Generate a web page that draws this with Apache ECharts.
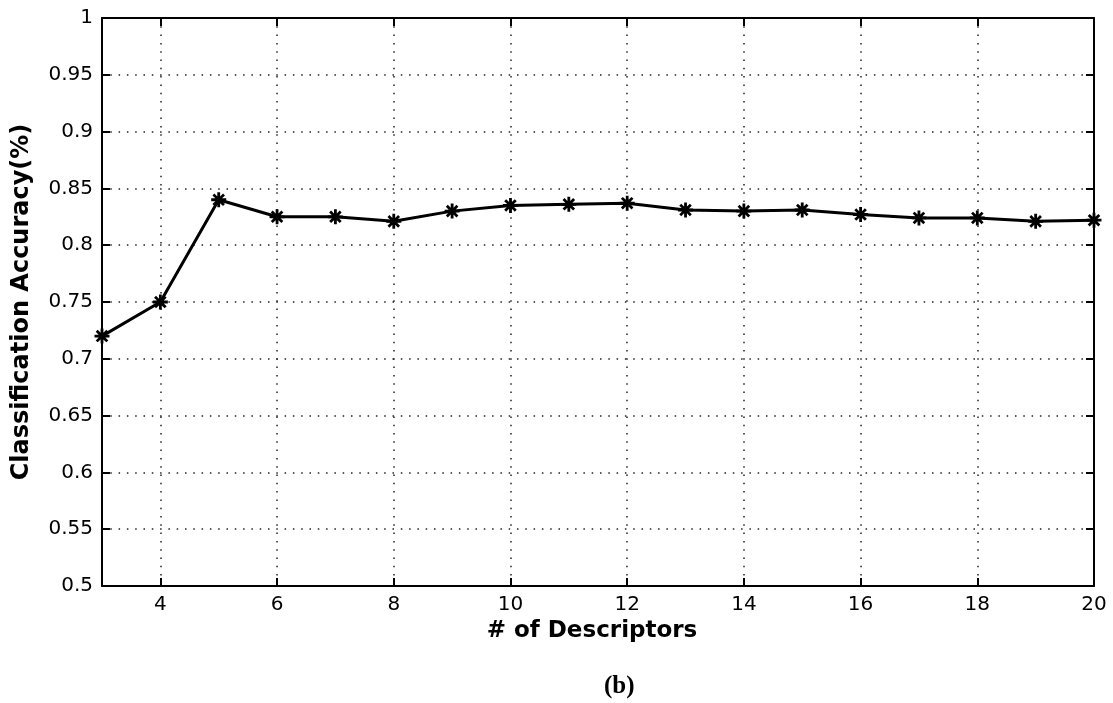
<!DOCTYPE html>
<html>
<head>
<meta charset="utf-8">
<title>Classification Accuracy vs. Number of Descriptors</title>
<script src="https://cdn.jsdelivr.net/npm/echarts@6/dist/echarts.min.js"></script>
<style>
  html, body { margin: 0; padding: 0; background: #fff; }
  #chart { width: 1113px; height: 703px; }
</style>
</head>
<body>
<div id="chart"></div>
<script>
// Number of descriptors used (x) and the resulting classification accuracy (y)
const descriptors = [3, 4, 5, 6, 7, 8, 9, 10, 11, 12, 13, 14, 15, 16, 17, 18, 19, 20];
const accuracy = [0.72, 0.75, 0.84, 0.825, 0.825, 0.821, 0.83, 0.835, 0.836, 0.837,
                  0.831, 0.83, 0.831, 0.827, 0.824, 0.824, 0.821, 0.822];

// Axis ticks
const xTicks = [4, 6, 8, 10, 12, 14, 16, 18, 20];
const yTicks = [0.5, 0.55, 0.6, 0.65, 0.7, 0.75, 0.8, 0.85, 0.9, 0.95, 1];

const xRange = [3, 20];
const yRange = [0.5, 1];

const tickFont = { fontFamily: 'DejaVu Sans', fontSize: 20, color: '#000' };
const titleFont = { fontFamily: 'DejaVu Sans', fontWeight: 'bold', color: '#000' };

// Eight-armed asterisk marker
const asterisk = 'path://M-1.5,-8L1.5,-8L1.5,-3.6L4.6,-6.7L6.7,-4.6L3.6,-1.5L8,-1.5L8,1.5L3.6,1.5L6.7,4.6L4.6,6.7L1.5,3.6L1.5,8L-1.5,8L-1.5,3.6L-4.6,6.7L-6.7,4.6L-3.6,1.5L-8,1.5L-8,-1.5L-3.6,-1.5L-6.7,-4.6L-4.6,-6.7L-1.5,-3.6Z';

const dotted = { color: '#222', width: 1.5, type: [1.5, 6.8] };
const frame = { show: true, onZero: false, lineStyle: { color: '#000', width: 2 } };
const inTick = { show: true, inside: true, length: 8, lineStyle: { color: '#000', width: 2 } };

const chart = echarts.init(document.getElementById('chart'), null, { renderer: 'canvas' });

chart.setOption({
  backgroundColor: '#fff',
  animation: false,
  grid: { left: 102, right: 19, top: 18, bottom: 117 },
  xAxis: [
    {
      type: 'value', position: 'bottom',
      min: xRange[0], max: xRange[1],
      name: '# of Descriptors', nameLocation: 'middle', nameGap: 31,
      nameTextStyle: Object.assign({ fontSize: 23, padding: [0, 12, 0, 0] }, titleFont),
      axisLine: frame,
      axisTick: Object.assign({ customValues: xTicks }, inTick),
      axisLabel: Object.assign({ customValues: xTicks, margin: 9 }, tickFont),
      splitLine: { show: true, lineStyle: dotted }
    },
    {
      type: 'value', position: 'top',
      min: xRange[0], max: xRange[1],
      axisLine: frame,
      axisTick: Object.assign({ customValues: xTicks }, inTick),
      axisLabel: { show: false, customValues: xTicks },
      splitLine: { show: false }
    }
  ],
  yAxis: [
    {
      type: 'value', position: 'left',
      min: yRange[0], max: yRange[1], interval: 0.05,
      name: 'Classification Accuracy(%)', nameLocation: 'middle', nameGap: 68,
      nameTextStyle: Object.assign({ fontSize: 24 }, titleFont),
      axisLine: frame,
      axisTick: Object.assign({ customValues: yTicks }, inTick),
      axisLabel: Object.assign({
        customValues: yTicks, margin: 9,
        formatter: v => String(Math.round(v * 100) / 100)
      }, tickFont),
      splitLine: { show: true, lineStyle: dotted }
    },
    {
      type: 'value', position: 'right',
      min: yRange[0], max: yRange[1], interval: 0.05,
      axisLine: frame,
      axisTick: Object.assign({ customValues: yTicks }, inTick),
      axisLabel: { show: false },
      splitLine: { show: false }
    }
  ],
  series: [
    {
      type: 'line',
      xAxisIndex: 0, yAxisIndex: 0,
      data: descriptors.map((d, i) => [d, accuracy[i]]),
      lineStyle: { color: '#000', width: 3 },
      itemStyle: { color: '#000' },
      symbol: asterisk,
      symbolSize: 15,
      showSymbol: true,
      clip: false
    }
  ],
  graphic: [
    {
      type: 'text',
      left: 604, top: 674,
      style: {
        text: '(b)',
        fontFamily: 'Liberation Serif', fontWeight: 'bold', fontSize: 25,
        fill: '#000'
      }
    }
  ]
});
</script>
</body>
</html>
